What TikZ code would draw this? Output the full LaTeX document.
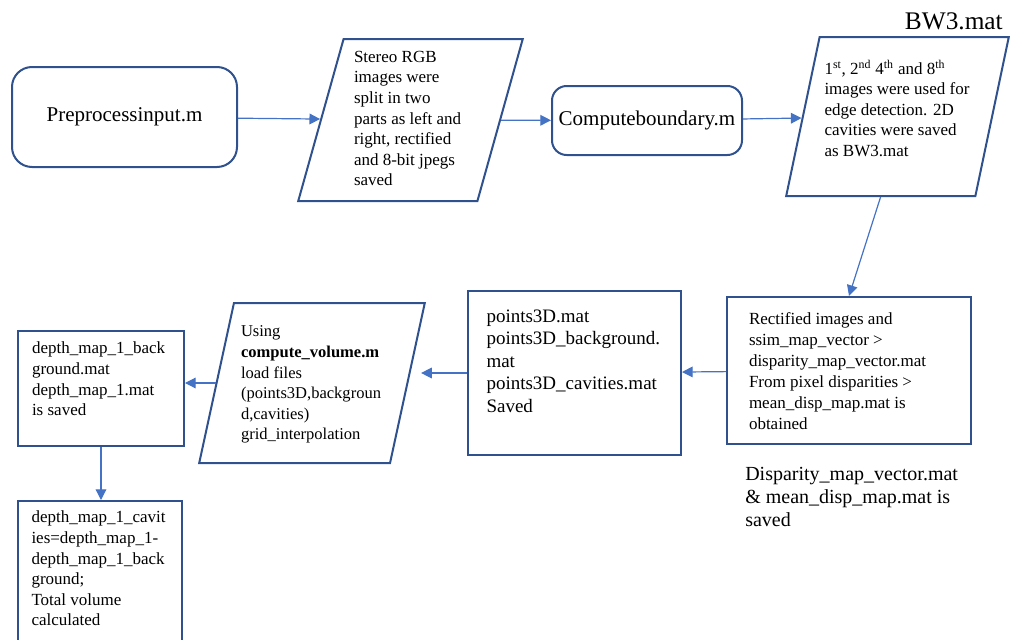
\documentclass[tikz,border=0pt]{standalone}
\usepackage{fontspec}
\setmainfont{Liberation Serif}
\usepackage{tikz}
\usetikzlibrary{arrows.meta,shapes.geometric}

\definecolor{boxblue}{HTML}{2F528F}
\definecolor{lineblue}{HTML}{4472C4}

% top-aligned text block: width, height, lines
\newcommand{\boxtext}[3]{\parbox[c][#2][t]{#1}{\raggedright #3}}

\begin{document}
\begin{tikzpicture}[x=0.75pt,y=-0.75pt,>={Triangle[length=8pt,width=8pt]}]
  \tikzstyle{every node}=[inner sep=0pt]
  \tikzstyle{rbox}=[rectangle,rounded corners=15pt,draw=boxblue,line width=1.5pt,
                    font=\fontsize{15.75}{19}\selectfont]
  \tikzstyle{pbox}=[trapezium,trapezium left angle=74.5,trapezium right angle=105.5,
                    trapezium stretches=true,draw=boxblue,line width=1.5pt,
                    font=\fontsize{12.75}{15.45}\selectfont]
  \tikzstyle{sbox}=[rectangle,draw=boxblue,line width=1.5pt,
                    font=\fontsize{12.75}{15.45}\selectfont]
  \tikzstyle{flow}=[->,color=lineblue,line width=0.9pt]

  \useasboundingbox (0,0) rectangle (1010,639);

  % top row
  \node[rbox,minimum width=168.75pt,minimum height=75pt] (pre) at (124.5,117) {Preprocessinput.m};
  \node[pbox,minimum width=168.75pt,minimum height=121.5pt] (split) at (410.5,120)
    {\boxtext{84.75pt}{103.5pt}{Stereo RGB\\ images were\\ split in two\\ parts as left and\\
     right, rectified\\ and 8-bit jpegs\\ saved}};
  \node[rbox,rounded corners=11pt,minimum width=142.5pt,minimum height=51.75pt] (cb) at (647,120.5)
    {Computeboundary.m};
  \node[pbox,minimum width=167.25pt,minimum height=119.25pt] (det) at (897.5,116.5)
    {\boxtext{109.5pt}{84.75pt}{1\textsuperscript{st}, 2\textsuperscript{nd} 4\textsuperscript{th}
     and 8\textsuperscript{th}\\ images were used for\\ edge detection. 2D\\ cavities were saved\\
     as BW3.mat}};
  \node[anchor=base east,font=\fontsize{19}{23}\selectfont] (bw) at (1003,29) {BW3.mat};

  % bottom row, right to left
  \node[sbox,minimum width=183pt,minimum height=110.25pt,font=\fontsize{12.75}{15.75}\selectfont]
    (rect) at (849,370.5)
    {\boxtext{150pt}{86.25pt}{Rectified images and\\ ssim\_map\_vector >\\
     disparity\_map\_vector.mat\\ From pixel disparities >\\ mean\_disp\_map.mat is\\ obtained}};
  \node[anchor=base west,font=\fontsize{15}{17.6}\selectfont] (disp) at (745,480)
    {\parbox[t]{165pt}{\raggedright Disparity\_map\_vector.mat\\ \& mean\_disp\_map.mat is\\ saved}};
  \node[sbox,minimum width=159.75pt,minimum height=123pt,font=\fontsize{14.25}{16.9}\selectfont]
    (pts) at (574.5,373)
    {\boxtext{132pt}{95.25pt}{points3D.mat\\ points3D\_background.\\ mat\\
     points3D\_cavities.mat\\ Saved}};
  \node[pbox,minimum width=169.5pt,minimum height=120pt,font=\fontsize{12.4}{15.45}\selectfont]
    (vol) at (312,383)
    {\boxtext{106.5pt}{85.5pt}{Using\\ \textbf{compute\_volume.m}\\ load files\\
     (points3D,backgroun\\ d,cavities)\\ grid\_interpolation}};
  \node[sbox,minimum width=124.5pt,minimum height=86.25pt] (dm) at (101,388.5)
    {\boxtext{103.5pt}{69.75pt}{depth\_map\_1\_back\\ ground.mat\\ depth\_map\_1.mat\\ is saved}};
  \node[sbox,minimum width=123pt,minimum height=108.75pt] (cav) at (100,573.5)
    {\boxtext{102.75pt}{93.75pt}{depth\_map\_1\_cavit\\ ies=depth\_map\_1-\\ depth\_map\_1\_back\\
     ground;\\ Total volume\\ calculated}};

  % connectors
  \draw[flow] (pre) -- (split);
  \draw[flow] (split) -- (cb);
  \draw[flow] (cb) -- (det);
  \draw[flow] (det.bottom side) -- (rect.north);
  \draw[flow] (rect) -- (pts);
  \draw[flow,shorten >=9.5pt] (pts.west) -- (pts.west -| vol.east);
  \draw[flow] (vol.west) -- (vol.west -| dm.east);
  \draw[flow] (dm.south) -- (dm.south |- cav.north);
\end{tikzpicture}
\end{document}
